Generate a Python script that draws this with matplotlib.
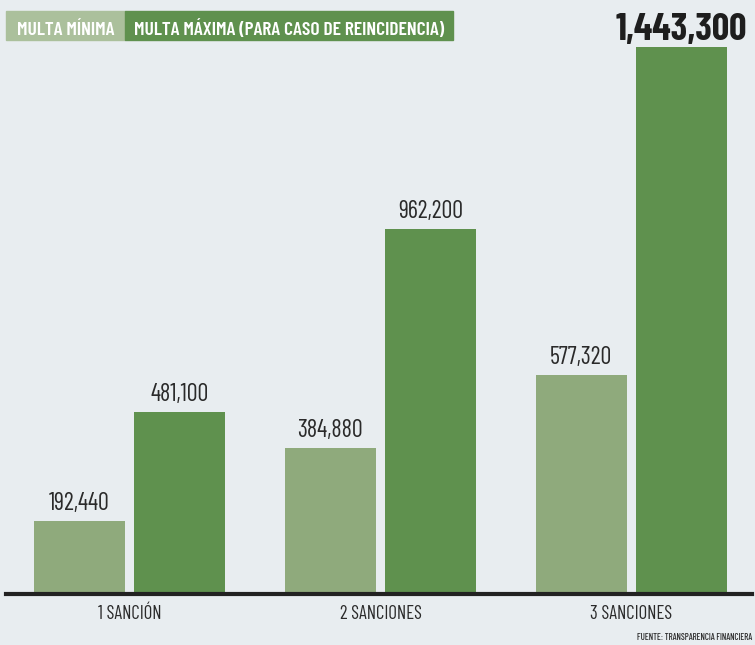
import matplotlib
matplotlib.use("Agg")
import matplotlib.pyplot as plt
from matplotlib.patches import Rectangle
import numpy as np

# Data
categories = ["1 SANCIÓN", "2 SANCIONES", "3 SANCIONES"]
multa_minima = [192440, 384880, 577320]
multa_maxima = [481100, 962200, 1443300]
series_names = ["MULTA MÍNIMA", "MULTA MÁXIMA (PARA CASO DE REINCIDENCIA)"]
source_text = "FUENTE: TRANSPARENCIA FINANCIERA"

# Style
BG = "#e8edf0"
LIGHT = "#8faa7c"
DARK = "#5f914e"
LEGEND_LIGHT = "#abc09c"
TEXT = "#2a2a2a"

plt.rcParams["font.family"] = ["Barlow Condensed", "Roboto Condensed",
                               "Liberation Sans Narrow", "DejaVu Sans"]

W, H = 755, 645
fig = plt.figure(figsize=(W / 100, H / 100), dpi=100, facecolor=BG)
ax = fig.add_axes([6 / W, 51 / H, 746 / W, 594 / H])
ax.set_facecolor(BG)

x = np.arange(len(categories))
bw = 0.3625
off = 0.2
ax.bar(x - off, multa_minima, width=bw, color=LIGHT, zorder=2)
ax.bar(x + off, multa_maxima, width=bw, color=DARK, zorder=2)

ax.set_xlim(-0.492, 2.48)
ax.set_ylim(0, 1567400)

for s in ax.spines.values():
    s.set_visible(False)
ax.set_yticks([])
ax.set_xticks([])
ax.axhline(0, color="#222222", lw=3, zorder=3, clip_on=False)


def fmt(v):
    return f"{v:,}"


for xi, v in zip(x - off, multa_minima):
    ax.annotate(fmt(v), (xi, v), xytext=(0, 8), textcoords="offset points",
                ha="center", va="baseline", fontsize=17.5, color=TEXT)
for i, (xi, v) in enumerate(zip(x + off, multa_maxima)):
    if i == len(multa_maxima) - 1:
        ax.annotate(fmt(v), (xi, v), xytext=(0, 5), textcoords="offset points",
                    ha="center", va="baseline", fontsize=27.5, fontweight="bold",
                    color="#1e1e1e", annotation_clip=False)
    else:
        ax.annotate(fmt(v), (xi, v), xytext=(0, 8), textcoords="offset points",
                    ha="center", va="baseline", fontsize=17.5, color=TEXT)

for xi, c in zip(x, categories):
    ax.annotate(c, (xi, 0), xytext=(0, -18), textcoords="offset points",
                ha="center", va="baseline", fontsize=13.5, color=TEXT,
                annotation_clip=False)


# Legend boxes at the top
def legend_box(x0, x1, color, label):
    fig.patches.append(Rectangle((x0 / W, 1 - 40 / H), (x1 - x0) / W, 29 / H,
                                 transform=fig.transFigure, color=color, zorder=5))
    fig.text((x0 + x1) / 2 / W, 1 - 35 / H, label, ha="center", va="baseline",
             fontsize=14, fontweight="semibold", color="white", zorder=6)


legend_box(6, 125, LEGEND_LIGHT, series_names[0])
legend_box(125, 453, DARK, series_names[1])

fig.text(752 / W, 5 / H, source_text, ha="right", va="baseline",
         fontsize=6.5, fontweight="medium", color=TEXT)

fig.savefig("out.png", dpi=100, facecolor=BG)
